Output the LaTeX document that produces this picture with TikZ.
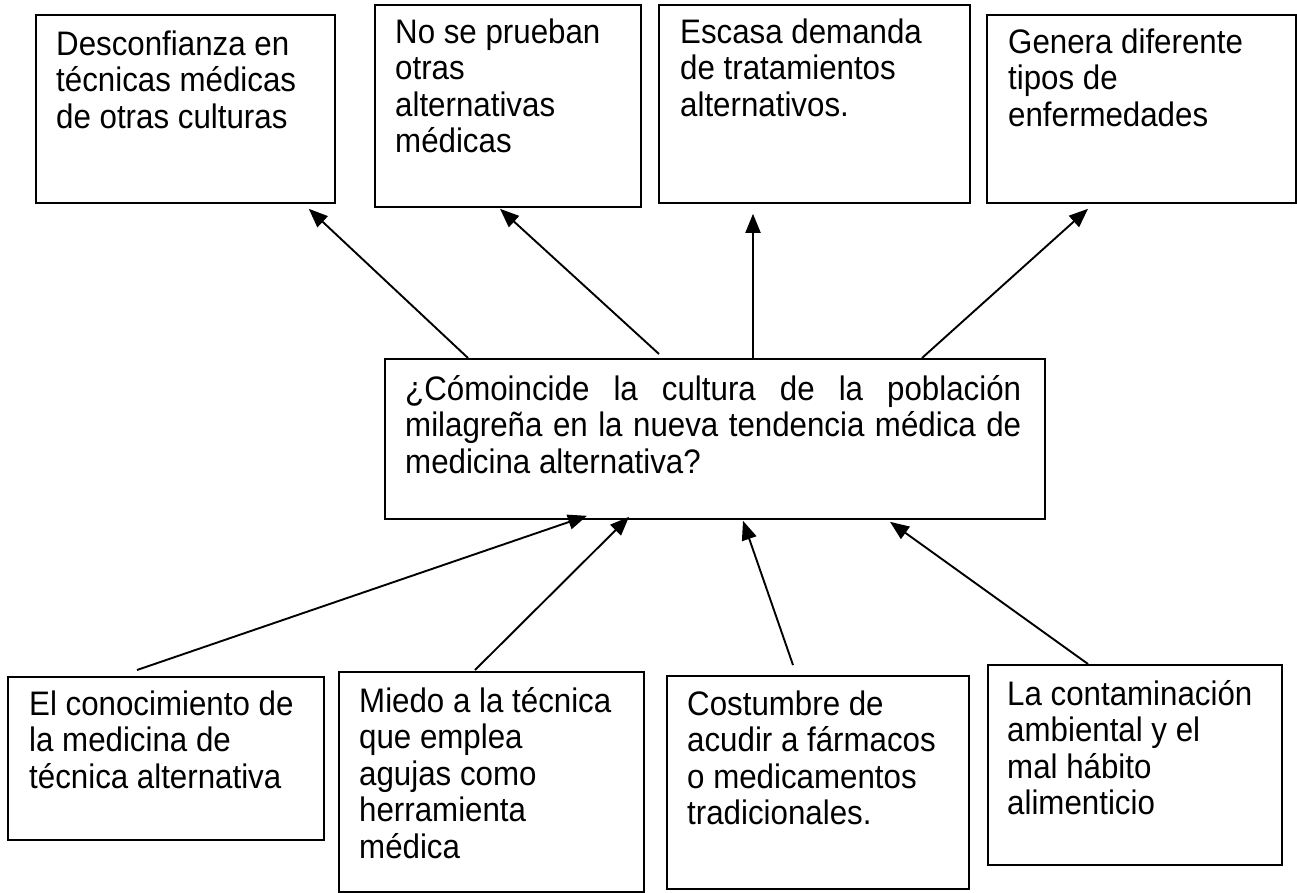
\documentclass[tikz,border=0pt]{standalone}
\usepackage{fontspec}
\setmainfont{Liberation Sans}[FakeStretch=0.92]
\usetikzlibrary{arrows.meta}
\begin{document}
\begin{tikzpicture}[x=1pt,y=-1pt,
  box/.style={draw=black, line width=1.8pt, inner sep=0pt, anchor=north west},
  txt/.style={inner sep=0pt, anchor=north west, align=left, font=\fontsize{34}{36.5}\selectfont},
  arr/.style={line width=1.9pt, -{Triangle[length=19pt,width=15pt]}}]
\useasboundingbox (0,0) rectangle (1297,892);
% top boxes
\node[box, minimum width=299pt, minimum height=188pt] (t1) at (35,14) {};
\node[box, minimum width=266pt, minimum height=202pt] (t2) at (374,4) {};
\node[box, minimum width=311pt, minimum height=198pt] (t3) at (658,4) {};
\node[box, minimum width=309pt, minimum height=188pt] (t4) at (986,14) {};
% centre box
\node[box, minimum width=660pt, minimum height=160pt] (c) at (384,358) {};
% bottom boxes
\node[box, minimum width=316pt, minimum height=163pt] (b1) at (7,676) {};
\node[box, minimum width=305pt, minimum height=220pt] (b2) at (338,671) {};
\node[box, minimum width=302pt, minimum height=213pt] (b3) at (666,675) {};
\node[box, minimum width=294pt, minimum height=200pt] (b4) at (987,664) {};
% texts
\node[txt] (t1x) at ([xshift=21pt,yshift=-9pt]t1.north west) {\rule{0pt}{32pt}Desconfianza en\\técnicas médicas\\de otras culturas};
\node[txt] (t2x) at ([xshift=21pt,yshift=-7pt]t2.north west) {\rule{0pt}{32pt}No se prueban\\otras\\alternativas\\médicas};
\node[txt] (t3x) at ([xshift=22pt,yshift=-7pt]t3.north west) {\rule{0pt}{32pt}Escasa demanda\\de tratamientos\\alternativos.};
\node[txt] (t4x) at ([xshift=22pt,yshift=-7pt]t4.north west) {\rule{0pt}{32pt}Genera diferente\\tipos de\\enfermedades};
\node[inner sep=0pt, anchor=north west] (cx) at ([xshift=21pt,yshift=-10pt]c.north west)
  {\parbox{616pt}{\fontsize{34}{36.5}\selectfont\rule{0pt}{32pt}¿Cómoincide la cultura de la población\linebreak milagreña en la nueva tendencia médica de\linebreak medicina alternativa?}};
\node[txt] (b1x) at ([xshift=22pt,yshift=-7pt]b1.north west) {\rule{0pt}{32pt}El conocimiento de\\la medicina de\\técnica alternativa};
\node[txt] (b2x) at ([xshift=21pt,yshift=-9pt]b2.north west) {\rule{0pt}{32pt}Miedo a la técnica\\que emplea\\agujas como\\herramienta\\médica};
\node[txt] (b3x) at ([xshift=21pt,yshift=-8pt]b3.north west) {\rule{0pt}{32pt}Costumbre de\\acudir a fármacos\\o medicamentos\\tradicionales.};
\node[txt] (b4x) at ([xshift=20pt,yshift=-9pt]b4.north west) {\rule{0pt}{32pt}La contaminación\\ambiental y el\\mal hábito\\alimenticio};
% arrows: effects
\draw[arr] ([xshift=84pt]c.north west) -- ([xshift=-27pt,yshift=-5pt]t1.south east);
\draw[arr] ([xshift=275pt,yshift=4pt]c.north west) -- ([xshift=126pt,yshift=-1pt]t2.south west);
\draw[arr] ([xshift=369pt]c.north west) -- ([xshift=95pt,yshift=-10pt]t3.south west);
\draw[arr] ([xshift=538pt]c.north west) -- ([xshift=102pt,yshift=-5pt]t4.south west);
% arrows: causes
\draw[arr] ([xshift=130pt,yshift=6pt]b1.north west) -- ([xshift=203pt,yshift=4pt]c.south west);
\draw[arr] ([xshift=137pt,yshift=1pt]b2.north west) -- ([xshift=245pt,yshift=3pt]c.south west);
\draw[arr] ([xshift=127pt,yshift=10pt]b3.north west) -- ([xshift=359pt,yshift=-1pt]c.south west);
\draw[arr] ([xshift=101pt]b4.north west) -- ([xshift=506pt,yshift=-2pt]c.south west);
\end{tikzpicture}
\end{document}
